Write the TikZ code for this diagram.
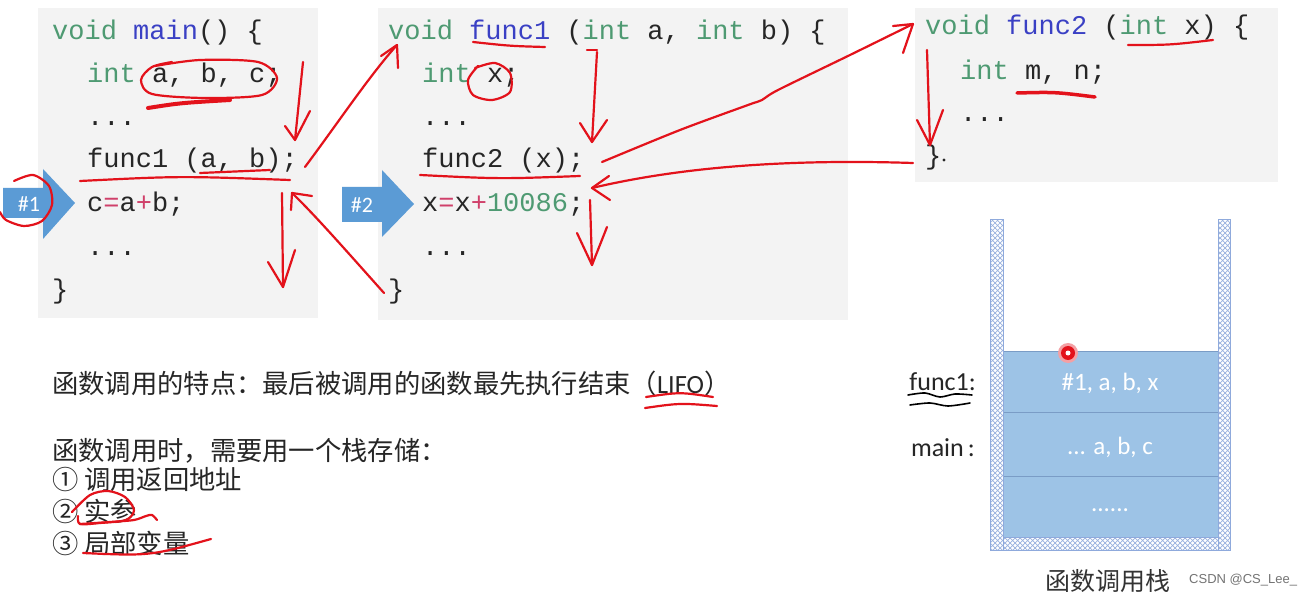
\documentclass[tikz,border=0pt]{standalone}
\usepackage{fontspec}
\setmainfont{Carlito}
\setmonofont{Liberation Mono}
\newfontfamily\cjk{Noto Sans CJK SC}
\newfontfamily\calib{Carlito}
\usetikzlibrary{patterns}
\pgfdeclarepatternformonly{xhatch}{\pgfqpoint{-1pt}{-1pt}}{\pgfqpoint{6pt}{6pt}}{\pgfqpoint{5pt}{5pt}}{%
  \pgfsetlinewidth{0.7pt}%
  \pgfpathmoveto{\pgfqpoint{0pt}{0pt}}\pgfpathlineto{\pgfqpoint{5pt}{5pt}}%
  \pgfpathmoveto{\pgfqpoint{0pt}{5pt}}\pgfpathlineto{\pgfqpoint{5pt}{0pt}}%
  \pgfusepath{stroke}}
\definecolor{kwgreen}{HTML}{4E9A72}
\definecolor{fnblue}{HTML}{3A40C4}
\definecolor{codeblk}{HTML}{262626}
\definecolor{oppink}{HTML}{D0406A}
\definecolor{boxgray}{HTML}{F3F3F3}
\definecolor{inkred}{HTML}{E3121B}
\definecolor{arrowblue}{HTML}{5B9BD5}
\definecolor{stackblue}{HTML}{9DC3E6}
\definecolor{stackedge}{HTML}{7A9CC6}
\definecolor{wallblue}{HTML}{8FAADC}
\newcommand{\kw}[1]{\textcolor{kwgreen}{#1}}
\newcommand{\fn}[1]{\textcolor{fnblue}{#1}}
\newcommand{\op}[1]{\textcolor{oppink}{#1}}
\tikzset{
  codebox/.style={fill=boxgray, draw=none},
  code/.style={anchor=base west, inner sep=0pt, text=codeblk, font=\ttfamily\fontsize{27}{27}\selectfont},
  ink/.style={draw=inkred, line width=2.2pt, line cap=round, line join=round},
  thickink/.style={draw=inkred, line width=4pt, line cap=round},
  bluearrow/.style={fill=arrowblue, draw=none},
  arrowlabel/.style={text=white, font=\calib\fontsize{22}{22}\selectfont, inner sep=0pt},
  cjktext/.style={anchor=base west, inner sep=0pt, text=black!85, font=\cjk\fontsize{26.3}{26.3}\selectfont},
  wall/.style={draw=wallblue, line width=1pt, pattern=xhatch, pattern color=wallblue!90},
  frame/.style={fill=stackblue, draw=stackedge, line width=1pt},
  frametext/.style={text=white, font=\calib\fontsize{25}{25}\selectfont, inner sep=0pt},
  stacklabel/.style={anchor=base east, inner sep=0pt, text=black!85, font=\calib\fontsize{26}{26}\selectfont},
}
\begin{document}
\begin{tikzpicture}[x=1pt,y=-1pt]
\useasboundingbox (0,0) rectangle (1303,593);
\fill[white] (0,0) rectangle (1303,593);
% code boxes
\fill[codebox] (38,8) rectangle (318,318);
\fill[codebox] (378,8) rectangle (848,320);
\fill[codebox] (915,8) rectangle (1278,182);
% main
\node[code] (m1) at (52,40) {\kw{void} \fn{main}() \{};
\node[code] (m2) at (87,83) {\kw{int} a, b, c;};
\node[code] (m3) at (87,126) {...};
\node[code] (m4) at (87,168) {func1 (a, b);};
\node[code] (m5) at (87,212) {c\op{=}a\op{+}b;};
\node[code] (m6) at (87,256) {...};
\node[code] (m7) at (52,299) {\}};
% func1
\node[code] (f1) at (388,40) {\kw{void} \fn{func1} (\kw{int} a, \kw{int} b) \{};
\node[code] (f2) at (422,83) {\kw{int} x;};
\node[code] (f3) at (422,126) {...};
\node[code] (f4) at (422,168) {func2 (x);};
\node[code] (f5) at (422,212) {x\op{=}x\op{+}\kw{10086};};
\node[code] (f6) at (422,256) {...};
\node[code] (f7) at (388,299) {\}};
% func2
\node[code] (g1) at (925,35) {\kw{void} \fn{func2} (\kw{int} x) \{};
\node[code] (g2) at (960,80) {\kw{int} m, n;};
\node[code] (g3) at (960,122) {...};
\node[code] (g4) at (925,165) {\}};
\fill[codeblk] (944,160) circle (1.6);
% blue arrows
\fill[bluearrow] (3,188) -- (43,188) -- (43,169) -- (75,203) -- (43,239) -- (43,218) -- (3,218) -- cycle;
\node[arrowlabel] (h1) at (29,204) {\#1};
\fill[bluearrow] (342,187) -- (382,187) -- (382,170) -- (414,204) -- (382,237) -- (382,222) -- (342,222) -- cycle;
\node[arrowlabel] (h2) at (362,205) {\#2};
% explanatory text
\node[cjktext] (t1) at (52,393) {函数调用的特点：最后被调用的函数最先执行结束（\calib LIFO\cjk）};
\node[cjktext] (t2) at (52,460) {函数调用时，需要用一个栈存储：};
\node[cjktext] (t3) at (52,489) {① 调用返回地址};
\node[cjktext] (t4) at (52,521) {② 实参};
\node[cjktext] (t5) at (52,553) {③ 局部变量};
% stack
\draw[frame] (1003,351) rectangle (1218,412);
\draw[frame] (1003,412) rectangle (1218,476);
\draw[frame] (1003,476) rectangle (1218,537);
\draw[wall] (990,220) rectangle (1003,550);
\draw[wall] (1218,220) rectangle (1230,550);
\draw[wall] (1003,537) rectangle (1218,550);
\node[frametext] (s1) at (1110,383) {\#1, a, b, x};
\node[frametext] (s2) at (1110,447) {... a, b, c};
\node[frametext] (s3) at (1110,510) {......};
\node[stacklabel] (l1) at (976,390) {func1:};
\node[stacklabel] (l2) at (975,456) {main\hspace{4pt}:};
\node[anchor=base, inner sep=0pt, text=black!80, font=\cjk\fontsize{25}{25}\selectfont] (cap) at (1108,590) {函数调用栈};
\node[anchor=base west, inner sep=0pt, text=black!55, font=\fontspec{Liberation Sans}\fontsize{13}{13}\selectfont] (wm) at (1189,583) {CSDN @CS\_Lee\_};
% black squiggles
\draw[black, line width=1.6pt, line cap=round] plot[smooth] coordinates {(908,395) (925,393) (940,397) (955,394) (972,395)};
\draw[black, line width=1.6pt, line cap=round] plot[smooth] coordinates {(910,405) (930,403) (948,406) (970,403)};
% red laser dot
\fill[inkred!40] (1068,353) circle (10);
\fill[inkred] (1068,353) circle (7);
\fill[white] (1068,353) circle (2.5);
% ===== red ink annotations =====
\coordinate (abcTip) at (295,140);
\coordinate (callTip) at (397,45);
\coordinate (retTip) at (292,193);
\coordinate (downTip) at (283,287);
% loop around a, b, c
\draw[ink] plot[smooth] coordinates {(155,66) (200,60) (258,62) (277,78) (262,95) (205,98) (152,94) (141,80) (152,67) (172,62)};
\draw[thickink] (148,108) .. controls (180,103) .. (230,100);
% arrow down in main
\draw[ink] (303,62) -- (abcTip);
\draw[ink] (285,126) -- (abcTip) -- (310,111);
\draw[ink] (200,173) -- (270,170);
\draw[ink] (80,181) .. controls (180,176) .. (290,180);
% call arrow to func1
\draw[ink] (305,167) .. controls (340,120) and (370,75) .. (callTip);
\draw[ink] (381,56) -- (callTip) -- (398,68);
% down after return in main
\draw[ink] (282,193) -- (downTip);
\draw[ink] (268,262) -- (downTip) -- (295,250);
% return arrow from func1
\draw[ink] (384,293) .. controls (350,255) and (315,215) .. (retTip);
\draw[ink] (291,210) -- (retTip) -- (312,196);
% circle #1
\draw[ink] plot[smooth] coordinates {(14,181) (33,175) (49,186) (52,205) (42,221) (24,226) (6,220) (0,212)};
% func1 annotations
\draw[ink] (473,42) .. controls (510,46) .. (545,47);
\draw[ink] plot[smooth] coordinates {(475,68) (495,63) (510,73) (510,92) (492,100) (473,95) (468,80) (478,66)};
\draw[ink] (587,50) -- (597,50);
\coordinate (f1Tip) at (592,142);
\draw[ink] (597,52) -- (f1Tip);
\draw[ink] (580,123) -- (f1Tip) -- (607,120);
\draw[ink] (420,175) .. controls (500,179) .. (580,176);
% call arrow to func2
\coordinate (callTip2) at (913,24);
\draw[ink] plot[smooth] coordinates {(602,162) (680,130) (748,105) (762,100) (778,90) (850,55) (callTip2)};
\draw[ink] (893,26) -- (callTip2) -- (903,53);
% return arrow from func2
\coordinate (retTip2) at (592,188);
\draw[ink] (913,163) .. controls (760,158) and (660,172) .. (retTip2);
\draw[ink] (609,176) -- (retTip2) -- (610,200);
% down arrow after return in func1
\coordinate (f1Down) at (592,265);
\draw[ink] (590,200) -- (f1Down);
\draw[ink] (577,233) -- (f1Down) -- (607,227);
% func2 annotations
\draw[ink] (1128,45) .. controls (1170,45) .. (1213,40);
\draw[draw=inkred, line width=3.5pt, line cap=round] (1017,93) .. controls (1055,92) .. (1095,97);
\coordinate (g1Tip) at (930,145);
\draw[ink] (927,50) -- (g1Tip);
\draw[ink] (917,120) -- (g1Tip) -- (943,110);
% LIFO double underline
\draw[ink] (646,397) .. controls (680,392) .. (713,397);
\draw[ink] (645,408) .. controls (680,403) .. (717,406);
% shi can loop
\draw[ink] plot[smooth] coordinates {(72,512) (90,495) (108,491) (125,497) (134,510) (126,520) (100,523) (80,524) (78,516)};
\draw[ink] plot[smooth] coordinates {(80,524) (110,522) (134,520) (146,516) (152,515) (157,520)};
% ju bu bian liang underline
\draw[ink] (83,553) .. controls (150,556) .. (211,539);
\end{tikzpicture}
\end{document}
